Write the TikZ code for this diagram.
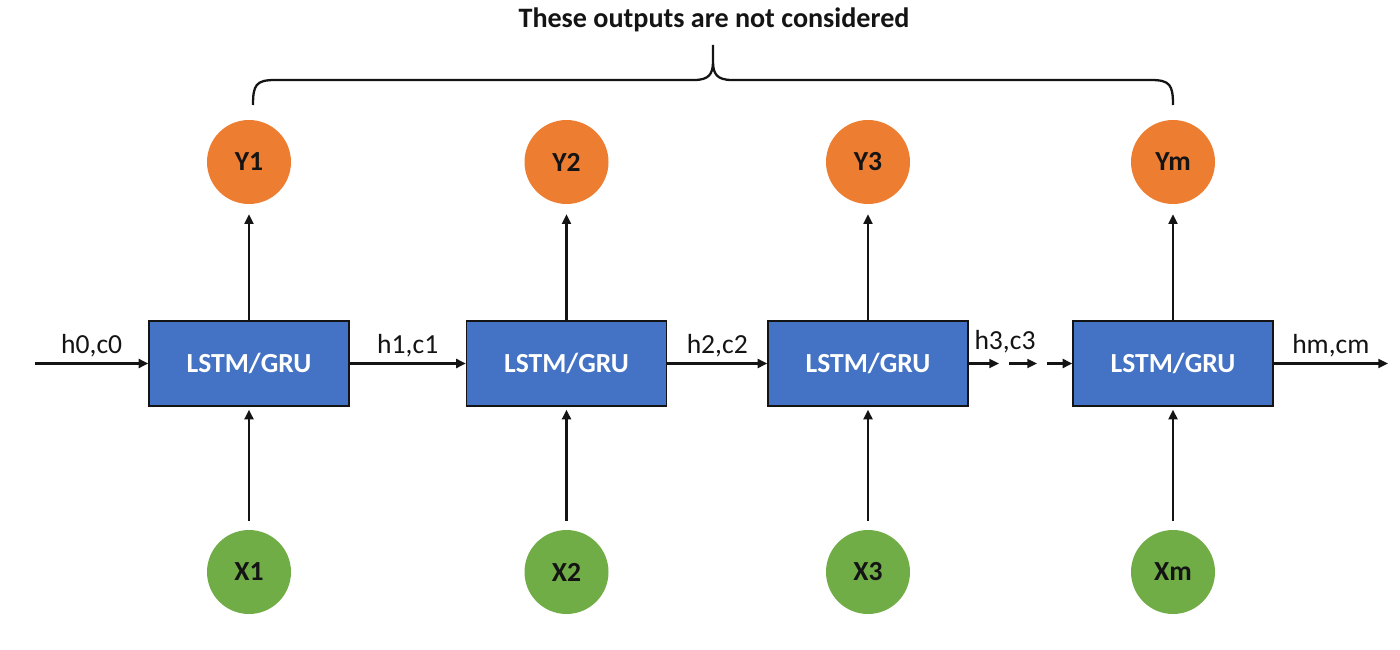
\documentclass[tikz,border=0pt]{standalone}
\usepackage{fontspec}
\setmainfont{Carlito}
\usetikzlibrary{arrows.meta, positioning}
\definecolor{cellblue}{HTML}{4472C4}
\definecolor{outorange}{HTML}{ED7D31}
\definecolor{ingreen}{HTML}{70AD47}
\definecolor{inkdark}{HTML}{141414}

\tikzset{
  cell/.style={rectangle, fill=cellblue, draw=inkdark, line width=0.7pt,
    minimum width=4cm, minimum height=1.7cm, text=white,
    font=\fontsize{15.7}{18}\selectfont\bfseries},
  outnode/.style={circle, fill=outorange, minimum size=1.68cm, inner sep=0pt,
    text=inkdark, font=\fontsize{15.7}{18}\selectfont\bfseries},
  innode/.style={circle, fill=ingreen, minimum size=1.68cm, inner sep=0pt,
    text=inkdark, font=\fontsize{15.7}{18}\selectfont\bfseries},
  statelabel/.style={text=inkdark, inner sep=1pt, above=2pt,
    font=\fontsize{15.7}{18}\selectfont}
}

\begin{document}
\begin{tikzpicture}[>={Triangle[length=5.5pt, width=5pt]}, line width=1.4pt, draw=inkdark]

\useasboundingbox (0,0) rectangle (28,12.98);

% =========== Cells, outputs and inputs ===========
\foreach \x/\n/\s in {4.98/1/1, 11.33/2/2, 17.36/3/3, 23.46/4/m} {
  \node[cell] (cell\n) at (\x,5.71) {LSTM/GRU};
  \node[outnode] (y\n) at (\x,9.74) {Y\s};
  \node[innode] (x\n) at (\x,1.54) {X\s};
  \draw[->, shorten >=0.18cm] (cell\n) -- (y\n);
  \draw[->, shorten <=0.16cm, shorten >=0.06cm] (x\n) -- (cell\n);
}

% =========== Hidden / cell states ===========
\coordinate (hin) at (0.7,5.71);
\coordinate (hout) at (27.76,5.71);
\coordinate (d1) at (19.98,5.71);
\coordinate (d2) at (20.18,5.71);
\coordinate (d3) at (20.74,5.71);
\coordinate (d4) at (20.94,5.71);

\draw[->] (hin) -- node[statelabel] (s0) {h0,c0} (cell1);
\draw[->] (cell1) -- node[statelabel] (s1) {h1,c1} (cell2);
\draw[->] (cell2) -- node[statelabel] (s2) {h2,c2} (cell3);

% dashed-looking gap before the last cell
\draw[->] (cell3) -- (d1);
\draw[->] (d2) -- (d3);
\draw[->] (d4) -- (cell4);
\node[statelabel, above=0pt] (s3) at (20.1,5.85) {h3,c3};

\draw[->] (cell4) -- node[statelabel] (sm) {hm,cm} (hout);

% =========== Brace over the outputs ===========
\coordinate (bl) at (5.06,10.88);
\coordinate (br) at (23.46,10.88);
\coordinate (tip) at (14.26,12.08);
\draw[line width=1.3pt]
  (bl) .. controls (5.06,11.28) and (5.12,11.38) .. (5.5,11.38)
  -- (13.88,11.38) .. controls (14.18,11.38) and (14.26,11.5) .. (14.26,11.75)
  -- (tip) -- (14.26,11.75) .. controls (14.26,11.5) and (14.34,11.38) .. (14.64,11.38)
  -- (23.02,11.38) .. controls (23.4,11.38) and (23.46,11.28) .. (br);

\node[text=inkdark, font=\fontsize{16}{18}\selectfont\bfseries] (title) at (14.28,12.58)
  {These outputs are not considered};

\end{tikzpicture}
\end{document}
